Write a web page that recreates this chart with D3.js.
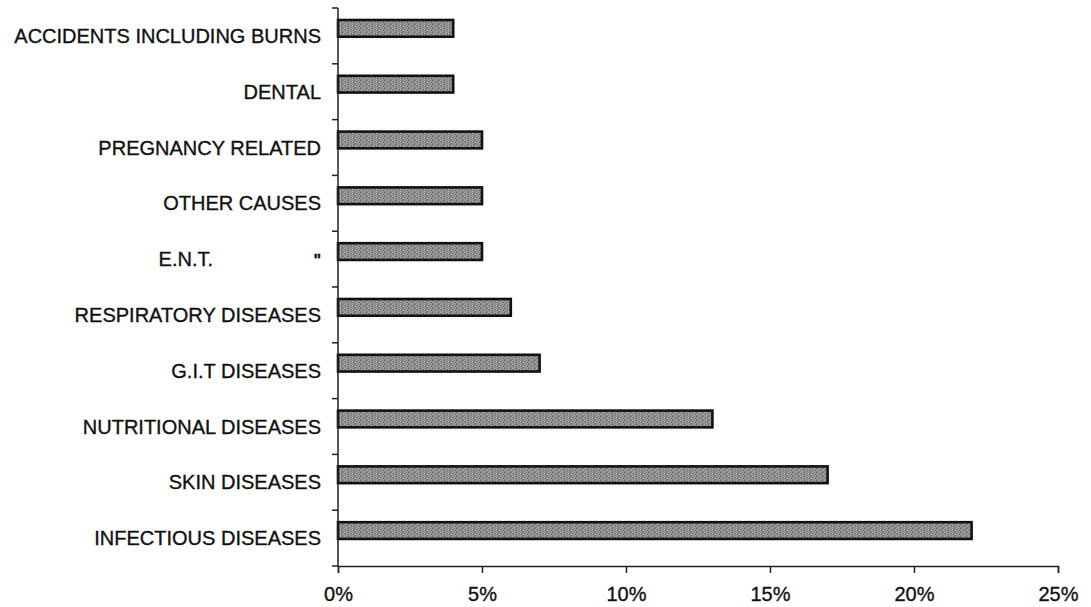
<!DOCTYPE html>
<html>
<head>
<meta charset="utf-8">
<script src="https://cdn.jsdelivr.net/npm/d3@7/dist/d3.min.js"></script>
<style>
  html, body { margin: 0; padding: 0; background: #fff; }
  svg { display: block; }
  text { font-family: Arial, "Liberation Sans", sans-serif; fill: #111; stroke: #111; stroke-width: 0.35px; }
</style>
</head>
<body>
<svg id="chart" width="1091" height="607"></svg>
<script>
// Causes of morbidity, top to bottom as listed on the axis
const categories = [
  "ACCIDENTS INCLUDING BURNS",
  "DENTAL",
  "PREGNANCY RELATED",
  "OTHER CAUSES",
  "E.N.T.",
  "RESPIRATORY DISEASES",
  "G.I.T DISEASES",
  "NUTRITIONAL DISEASES",
  "SKIN DISEASES",
  "INFECTIOUS DISEASES"
];
// Share of cases, percent
const values = [4, 4, 5, 5, 5, 6, 7, 13, 17, 22];
// Value axis ticks, percent
const xTicks = [0, 5, 10, 15, 20, 25];

const svg = d3.select("#chart");

const plot = { left: 338, right: 1058, top: 8, bottom: 566 };

const x = d3.scaleLinear().domain([0, 25]).range([plot.left, plot.right]);
const y = d3.scaleBand().domain(categories).range([plot.top, plot.bottom]).padding(0);
const bw = y.bandwidth();

// Halftone-like fill for the bars
const defs = svg.append("defs");
const pat = defs.append("pattern")
  .attr("id", "grain").attr("patternUnits", "userSpaceOnUse")
  .attr("width", 6).attr("height", 4);
pat.append("rect").attr("width", 6).attr("height", 4).attr("fill", "#8e8e8e");
[[0,0,"#5e5e5e"],[3,1,"#626262"],[1,2,"#b8b8b8"],[4,3,"#b0b0b0"],[2,0,"#aaaaaa"],[5,2,"#646464"],[1,3,"#707070"],[4,1,"#b4b4b4"]]
  .forEach(([px, py, c]) => pat.append("rect").attr("x", px).attr("y", py).attr("width", 1).attr("height", 1).attr("fill", c));

// Bars (sit in the upper part of each band)
svg.append("g").selectAll("rect")
  .data(categories)
  .join("rect")
  .attr("x", x(0))
  .attr("y", d => y(d) + bw * 0.215)
  .attr("width", (d, i) => x(values[i]) - x(0))
  .attr("height", bw * 0.3)
  .attr("fill", "url(#grain)")
  .attr("stroke", "#111")
  .attr("stroke-width", 2.6);

// Category axis: line, ticks at band boundaries, labels at band centres
const yAxis = svg.append("g");
yAxis.append("line")
  .attr("x1", plot.left).attr("x2", plot.left)
  .attr("y1", plot.top).attr("y2", plot.bottom)
  .attr("stroke", "#222").attr("stroke-width", 1.5);
const bounds = categories.map(c => y(c)).concat([plot.bottom]);
yAxis.selectAll("line.tick")
  .data(bounds)
  .join("line")
  .attr("class", "tick")
  .attr("x1", plot.left - 6).attr("x2", plot.left)
  .attr("y1", d => d).attr("y2", d => d)
  .attr("stroke", "#222").attr("stroke-width", 1.5);
yAxis.selectAll("text.lbl")
  .data(categories)
  .join("text")
  .attr("class", "lbl")
  .attr("x", d => d === "E.N.T." ? 213 : 321)
  .attr("y", d => y(d) + bw / 2 + 7)
  .attr("text-anchor", "end")
  .attr("font-size", 20)
  .text(d => d);
// ditto mark next to E.N.T.
yAxis.append("text")
  .attr("x", 321)
  .attr("y", y("E.N.T.") + bw / 2 + 7)
  .attr("text-anchor", "end")
  .attr("font-size", 16)
  .attr("font-weight", "bold")
  .text("\"");

// Value axis
const xAxis = svg.append("g").attr("transform", `translate(0,${plot.bottom})`)
  .call(d3.axisBottom(x).tickValues(xTicks).tickFormat(d => d + "%").tickSize(7).tickPadding(14));
xAxis.select(".domain").attr("stroke", "#222").attr("stroke-width", 1.5);
xAxis.selectAll(".tick line").attr("stroke", "#222").attr("stroke-width", 1.5);
xAxis.selectAll(".tick text")
  .attr("font-size", 20)
  .attr("font-family", "Arial, 'Liberation Sans', sans-serif")
  .attr("fill", "#111");
</script>
</body>
</html>
